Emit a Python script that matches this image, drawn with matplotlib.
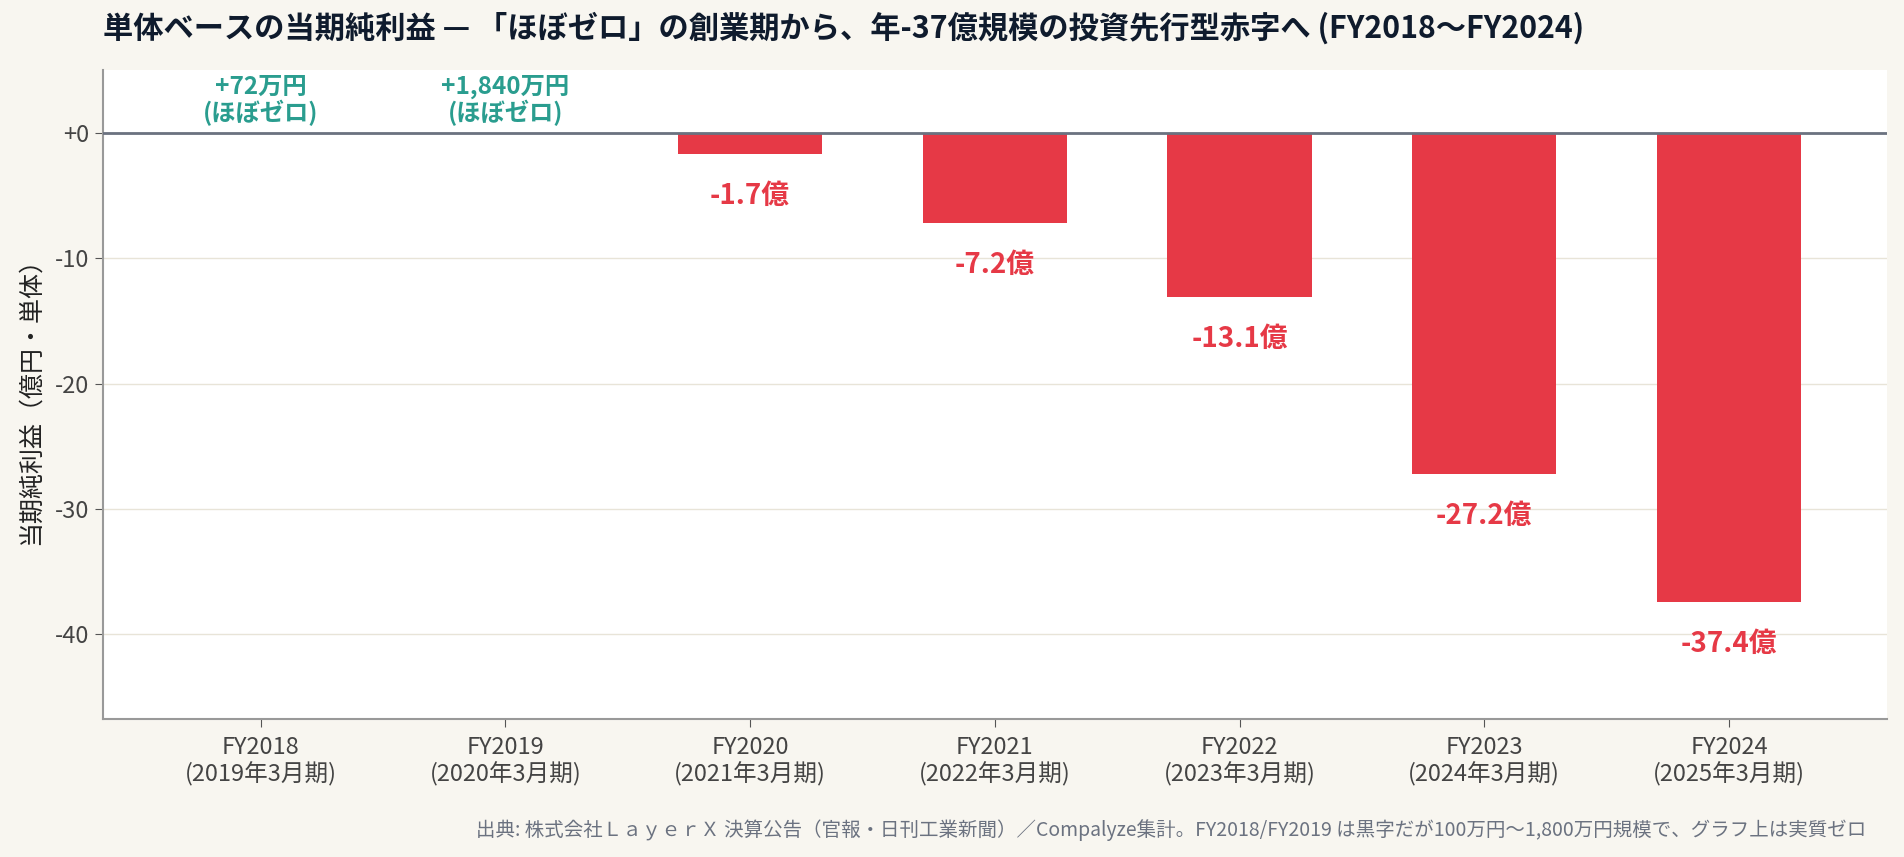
import matplotlib
matplotlib.use("Agg")
import matplotlib.pyplot as plt
from matplotlib.ticker import FuncFormatter

plt.rcParams["font.family"] = ["Noto Sans CJK JP", "DejaVu Sans"]

# data (億円)
years = ["FY2018", "FY2019", "FY2020", "FY2021", "FY2022", "FY2023", "FY2024"]
periods = ["2019年3月期", "2020年3月期", "2021年3月期", "2022年3月期",
           "2023年3月期", "2024年3月期", "2025年3月期"]
net_income = [0.0072, 0.184, -1.7, -7.2, -13.1, -27.2, -37.4]
pos_labels = ["+72万円\n(ほぼゼロ)", "+1,840万円\n(ほぼゼロ)"]

RED = "#e63946"
GREEN = "#2a9d8f"
BG = "#f8f6f0"

fig = plt.figure(figsize=(19.04, 8.57), dpi=100, facecolor=BG)
ax = fig.add_axes([0.054, 0.161, 0.937, 0.757])
ax.set_facecolor("white")

x = list(range(len(years)))
# positive years are near zero and not drawn as bars
neg_x = [xi for xi, v in zip(x, net_income) if v < 0]
neg_v = [v for v in net_income if v < 0]
ax.bar(neg_x, neg_v, width=0.59, color=RED, zorder=2)
ax.axhline(0, color="#6b7280", lw=2, zorder=3)

ax.set_xlim(-0.645, 6.645)
ax.set_ylim(-46.75, 5)
ax.set_yticks([0, -10, -20, -30, -40])
ax.yaxis.set_major_formatter(FuncFormatter(lambda v, p: f"{v:+.0f}"))
ax.grid(axis="y", color="#e8e4d8", lw=1, zorder=0)
ax.set_axisbelow(True)

ax.set_xticks(x)
ax.set_xticklabels([f"{y}\n({p})" for y, p in zip(years, periods)],
                   linespacing=1.15)
ax.tick_params(axis="both", labelsize=17, colors="#444444", length=6,
               color="#555555")
ax.tick_params(axis="x", pad=6)

for s in ["top", "right"]:
    ax.spines[s].set_visible(False)
for s in ["left", "bottom"]:
    ax.spines[s].set_color("#999999")
    ax.spines[s].set_linewidth(1.5)

ax.set_ylabel("当期純利益（億円・単体）", fontsize=18, color="#222222",
              labelpad=8)

# value labels
pi = 0
for xi, v in zip(x, net_income):
    if v > 0:
        ax.annotate(pos_labels[pi], (xi, 0), xytext=(0, 5),
                    textcoords="offset points", ha="center", va="bottom",
                    fontsize=17.5, fontweight="bold", color=GREEN,
                    linespacing=1.05)
        pi += 1
    else:
        ax.annotate(f"{v:.1f}億", (xi, v), xytext=(0, -30),
                    textcoords="offset points", ha="center", va="center",
                    fontsize=20, fontweight="bold", color=RED)

fig.text(0.054, 0.967, "単体ベースの当期純利益 — 「ほぼゼロ」の創業期から、年-37億規模の投資先行型赤字へ (FY2018〜FY2024)",
         fontsize=21.8, fontweight="bold", color="#0f1b2d", ha="left",
         va="center")
fig.text(0.98, 0.031, "出典: 株式会社ＬａｙｅｒＸ 決算公告（官報・日刊工業新聞）／Compalyze集計。FY2018/FY2019 は黒字だが100万円〜1,800万円規模で、グラフ上は実質ゼロ",
         fontsize=14, color="#6b7280", ha="right", va="center")

fig.savefig("out.png", dpi=100, facecolor=BG)
